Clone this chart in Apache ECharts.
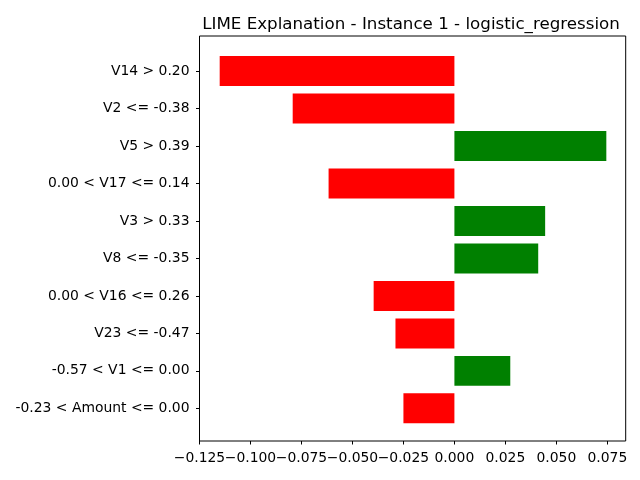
<!DOCTYPE html>
<html>
<head>
    <meta charset="utf-8">
    <title>LIME Explanation</title>
    <script src="https://cdn.jsdelivr.net/npm/echarts@6.0.0/dist/echarts.min.js"></script>
    <style>
        html, body { margin: 0; padding: 0; background: #fff; }
        #chart { width: 640px; height: 480px; }
    </style>
</head>
<body>
    <div id="chart"></div>
    <script>
        // 特征条件（从上到下）
        var features = [
            'V14 > 0.20',
            'V2 <= -0.38',
            'V5 > 0.39',
            '0.00 < V17 <= 0.14',
            'V3 > 0.33',
            'V8 <= -0.35',
            '0.00 < V16 <= 0.26',
            'V23 <= -0.47',
            '-0.57 < V1 <= 0.00',
            '-0.23 < Amount <= 0.00'
        ];
        // 每个特征的权重
        var weights = [-0.1151, -0.0793, 0.0745, -0.0617, 0.0445, 0.0411, -0.0396, -0.0289, 0.0274, -0.0250];
        // x 轴刻度
        var xTicks = [-0.125, -0.100, -0.075, -0.050, -0.025, 0.000, 0.025, 0.050, 0.075];

        var fontFamily = 'DejaVu Sans';
        var chart = echarts.init(document.getElementById('chart'));

        function fmt(v) {
            return Number(v).toFixed(3).replace('-', '\u2212');
        }

        // 标签挨得很紧，ECharts 会隐藏重叠的首尾标签，所以分两条轴交替显示
        var ticksEven = xTicks.filter(function (v, i) { return i % 2 === 0; });
        var ticksOdd = xTicks.filter(function (v, i) { return i % 2 === 1; });

        function labelAxis(values, withTicks) {
            return {
                gridIndex: 0,
                type: 'value',
                position: 'bottom',
                min: -0.125,
                max: 0.084,
                splitLine: { show: false },
                axisLine: { show: false },
                axisTick: { show: withTicks, length: 3.5, customValues: xTicks, lineStyle: { color: '#000' } },
                axisLabel: {
                    customValues: values,
                    interval: 0,
                    showMinLabel: true,
                    showMaxLabel: true,
                    margin: 10,
                    formatter: fmt,
                    fontFamily: fontFamily, fontSize: 13.9, color: '#000'
                }
            };
        }

        var option = {
            animation: false,
            backgroundColor: '#ffffff',
            title: {
                text: 'LIME Explanation - Instance 1 - logistic_regression',
                left: 406,
                top: 11,
                textAlign: 'center',
                textStyle: { fontFamily: fontFamily, fontSize: 16.7, fontWeight: 'normal', color: '#000' }
            },
            grid: [
                // 外框
                { left: 199.5, right: 14.3, top: 36, bottom: 39, show: true, borderColor: '#000', borderWidth: 1, backgroundColor: 'transparent' },
                // 条形区域（留出 matplotlib 的上下边距）
                { left: 199.5, right: 14.3, top: 52.3, bottom: 52.9 }
            ],
            xAxis: [
                labelAxis(ticksEven, true),
                { gridIndex: 1, type: 'value', min: -0.125, max: 0.084, show: false },
                labelAxis(ticksOdd, false)
            ],
            yAxis: [
                { gridIndex: 0, type: 'value', show: false },
                {
                    gridIndex: 1,
                    type: 'category',
                    inverse: true,
                    data: features,
                    axisLine: { show: false, onZero: false },
                    axisTick: { show: true, alignWithLabel: true, length: 3.5, lineStyle: { color: '#000' } },
                    axisLabel: { interval: 0, margin: 10, fontFamily: fontFamily, fontSize: 13.9, color: '#000' },
                    splitLine: { show: false }
                }
            ],
            series: [{
                type: 'bar',
                xAxisIndex: 1,
                yAxisIndex: 1,
                barCategoryGap: '20%',
                data: weights,
                itemStyle: {
                    color: function (p) { return p.value > 0 ? '#008000' : '#ff0000'; }
                }
            }]
        };
        chart.setOption(option);
    </script>
</body>
</html>
